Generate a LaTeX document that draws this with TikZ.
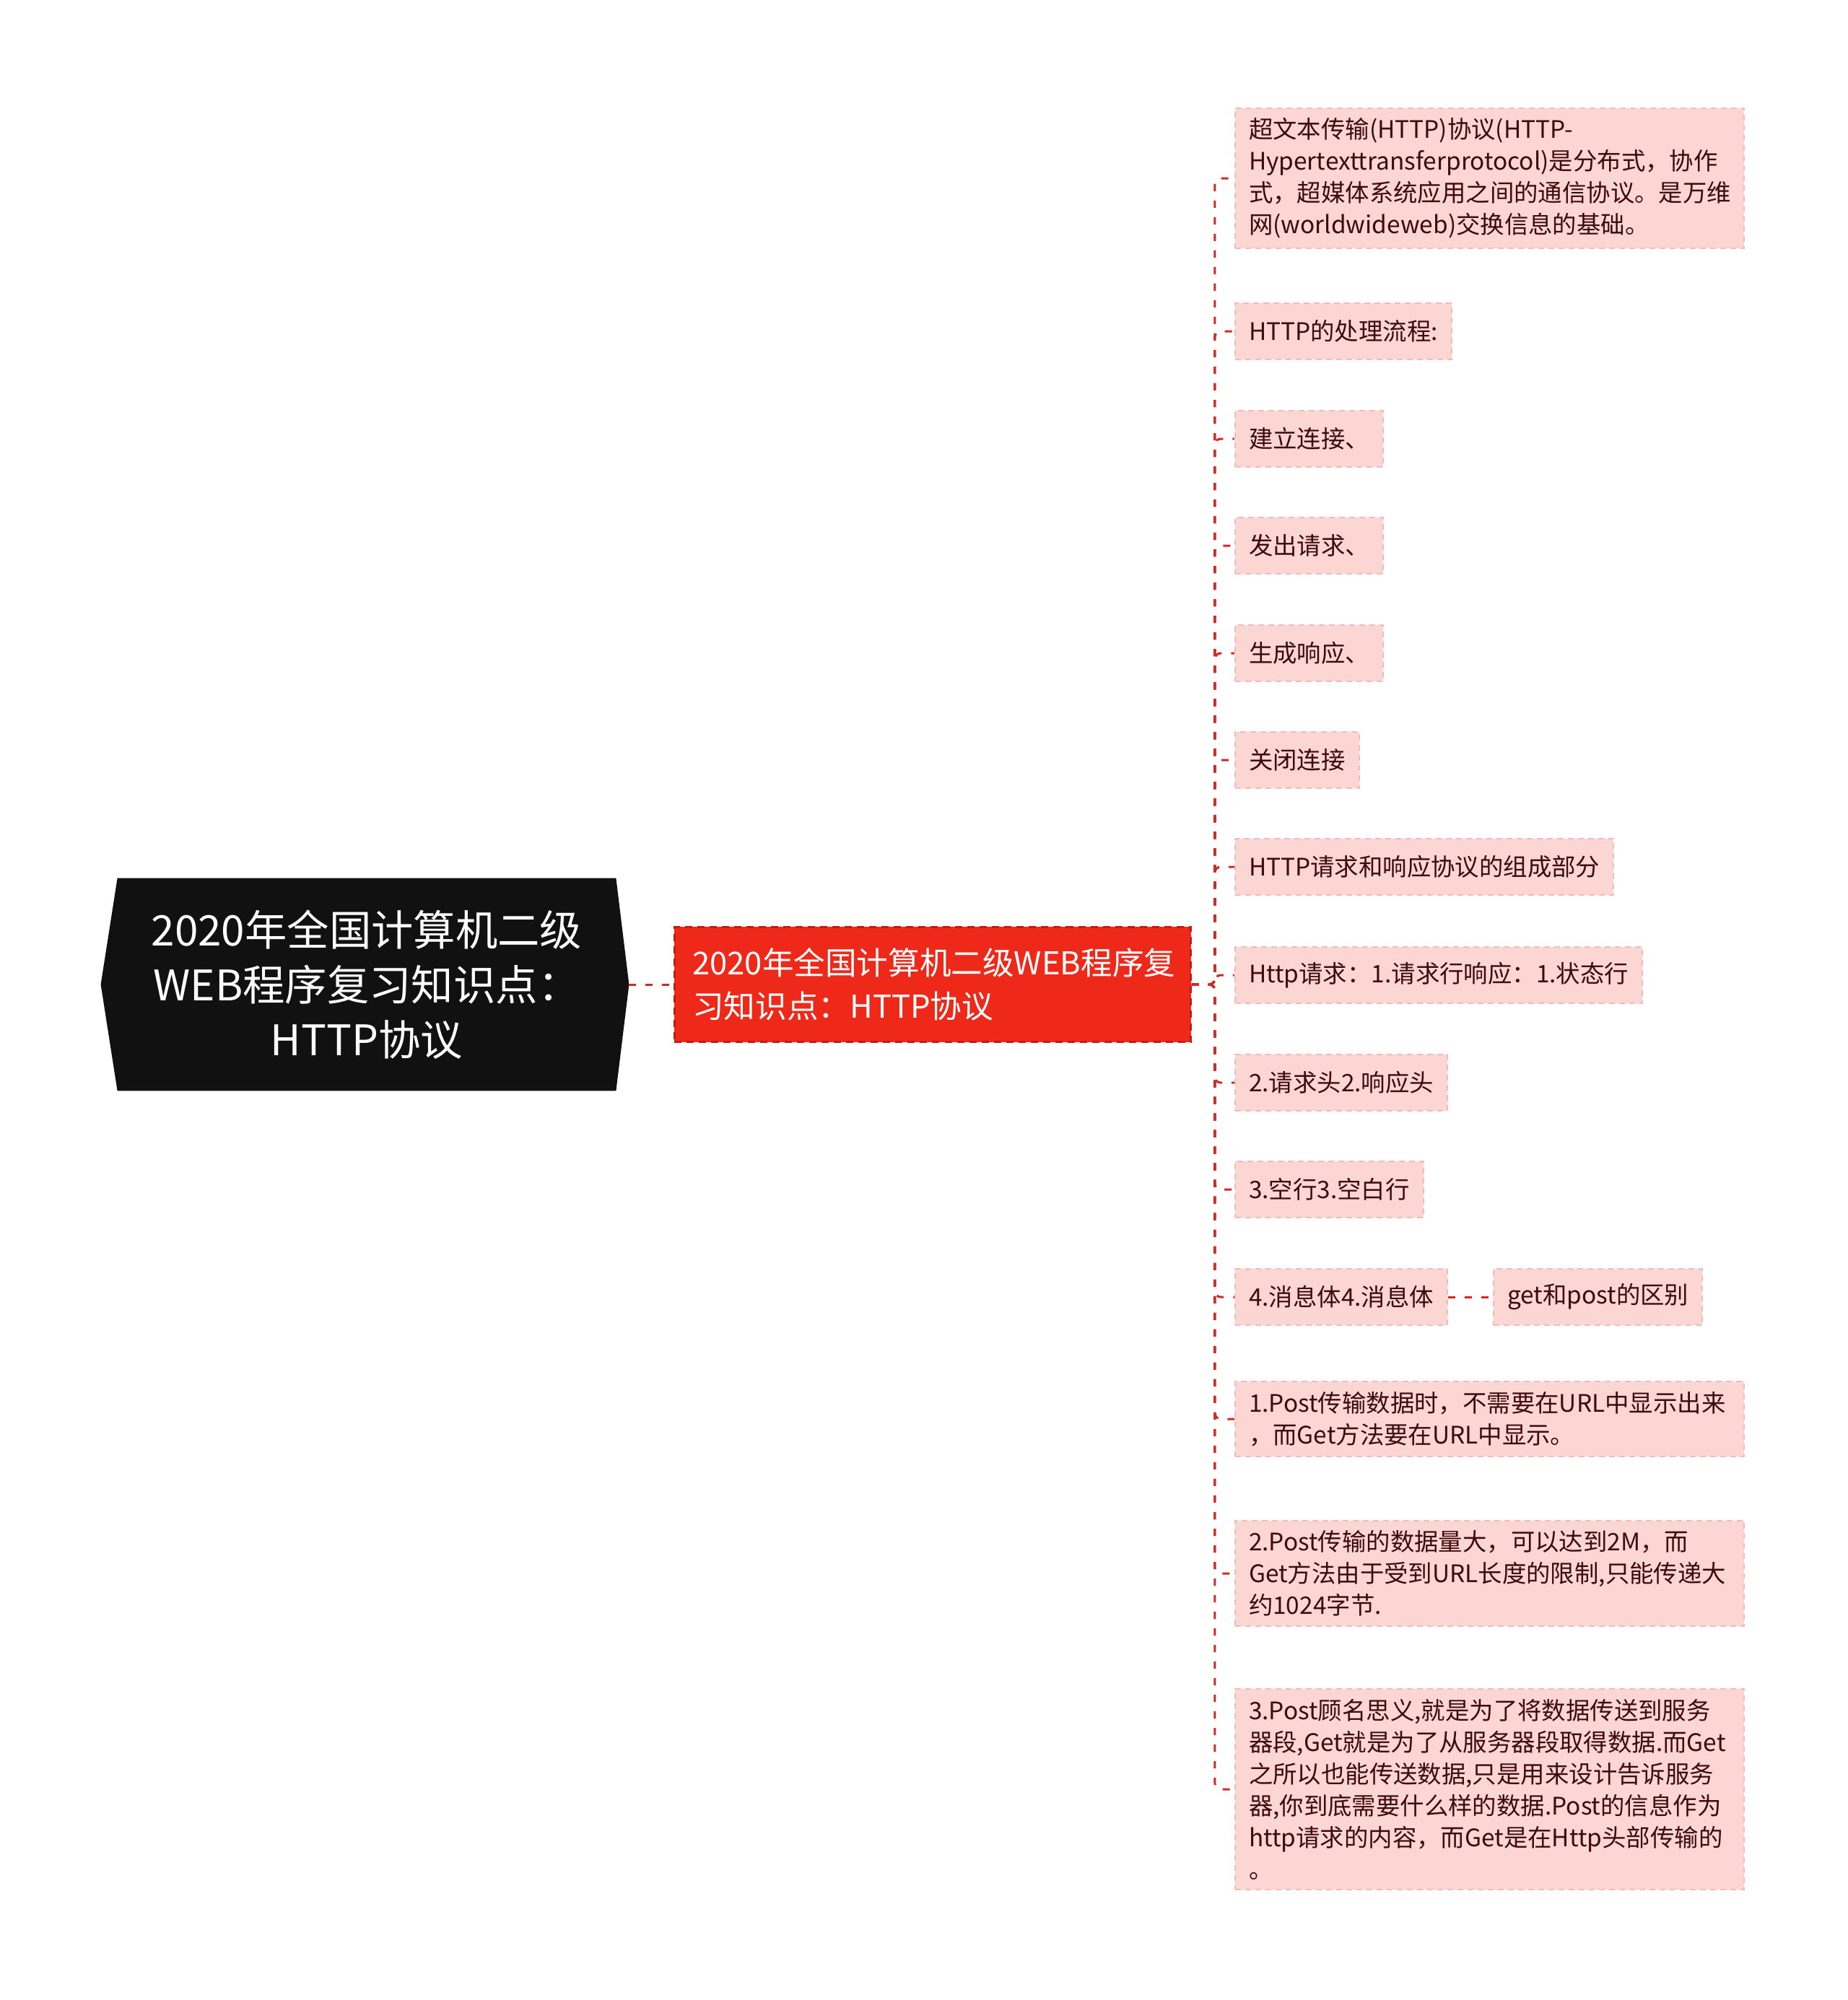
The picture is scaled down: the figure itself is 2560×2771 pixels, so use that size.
\documentclass[tikz,border=0pt]{standalone}
\usepackage{fontspec}
\setmainfont{Noto Sans CJK SC}
\usetikzlibrary{positioning,backgrounds}

\definecolor{linkred}{RGB}{214,40,34}
\definecolor{leafpink}{RGB}{251,214,211}
\definecolor{leafedge}{RGB}{243,188,184}
\definecolor{leaftext}{RGB}{62,10,10}
\definecolor{topicred}{RGB}{239,41,26}
\definecolor{topicedge}{RGB}{196,28,20}
\definecolor{rootblack}{RGB}{17,17,17}

\tikzset{
  link/.style={draw=linkred, line width=0.03cm, dash pattern=on 0.1cm off 0.13cm, rounded corners=0.08cm},
  leaf/.style={fill=leafpink, draw=leafedge, line width=0.02cm, dash pattern=on 0.08cm off 0.06cm,
    text=leaftext, font=\fontsize{9.5}{12.5}\selectfont, inner xsep=0.19cm, inner ysep=0.14cm,
    minimum height=0.78cm, align=left, anchor=west},
  wideleaf/.style={leaf, text width=6.67cm},
  topic/.style={fill=topicred, draw=topicedge, line width=0.025cm, dash pattern=on 0.1cm off 0.07cm,
    text=white, font=\fontsize{12.4}{17.1}\selectfont, inner xsep=0.25cm, inner ysep=0.2cm,
    text width=6.65cm, minimum height=1.59cm, align=left, anchor=west},
  rootnode/.style={text=white, font=\fontsize{16.6}{21.6}\selectfont, align=center,
    minimum width=6.89cm, minimum height=2.93cm, inner sep=0pt}
}

\begin{document}
\begin{tikzpicture}[x=0.01cm, y=-0.01cm]
  \useasboundingbox (0,0) rectangle (2560,2771);

  % centre
  \node[rootnode] (root) at (508,1364) {2020年全国计算机二级\\WEB程序复习知识点：\\HTTP协议};
  \begin{pgfonlayer}{background}
    \fill[white] (0,0) rectangle (2560,2771);
    \fill[rootblack] (root.north west) -- ([xshift=-0.23cm]root.west) -- (root.south west)
      -- (root.south east) -- ([xshift=0.18cm]root.east) -- (root.north east) -- cycle;
  \end{pgfonlayer}
  \coordinate (rootR) at ([xshift=0.18cm]root.east);

  \node[topic] (topic) at (933,1364) {2020年全国计算机二级WEB程序复\\习知识点：HTTP协议};

  % leaves
  \node[wideleaf] (l1) at (1710,247) {超文本传输(HTTP)协议(HTTP-\\Hypertexttransferprotocol)是分布式，协作\\式，超媒体系统应用之间的通信协议。是万维\\网(worldwideweb)交换信息的基础。};
  \node[leaf] (l2)  at (1710,459)  {HTTP的处理流程:};
  \node[leaf] (l3)  at (1710,608)  {建立连接、};
  \node[leaf] (l4)  at (1710,756)  {发出请求、};
  \node[leaf] (l5)  at (1710,905)  {生成响应、};
  \node[leaf] (l6)  at (1710,1053) {关闭连接};
  \node[leaf] (l7)  at (1710,1201) {HTTP请求和响应协议的组成部分};
  \node[leaf] (l8)  at (1710,1351) {Http请求：1.请求行响应：1.状态行};
  \node[leaf] (l9)  at (1710,1500) {2.请求头2.响应头};
  \node[leaf] (l10) at (1710,1648) {3.空行3.空白行};
  \node[leaf] (l11) at (1710,1797) {4.消息体4.消息体};
  \node[leaf] (diff) [right=0.62cm of l11] {get和post的区别};
  \node[wideleaf] (l12) at (1710,1966) {1.Post传输数据时，不需要在URL中显示出来\\，而Get方法要在URL中显示。};
  \node[wideleaf] (l13) at (1710,2180) {2.Post传输的数据量大，可以达到2M，而\\Get方法由于受到URL长度的限制,只能传递大\\约1024字节.};
  \node[wideleaf] (l14) at (1710,2479) {3.Post顾名思义,就是为了将数据传送到服务\\器段,Get就是为了从服务器段取得数据.而Get\\之所以也能传送数据,只是用来设计告诉服务\\器,你到底需要什么样的数据.Post的信息作为\\http请求的内容，而Get是在Http头部传输的\\。};

  % connectors
  \draw[link] (rootR) -- (topic.west);
  \foreach \n in {l1,l2,l3,l4,l5,l6,l7,l8,l9,l10,l11,l12,l13,l14}
    \draw[link] (topic.east) -- ++(0.32cm,0) |- (\n.west);
  \draw[link] (l11.east) -- (diff.west);
\end{tikzpicture}
\end{document}
